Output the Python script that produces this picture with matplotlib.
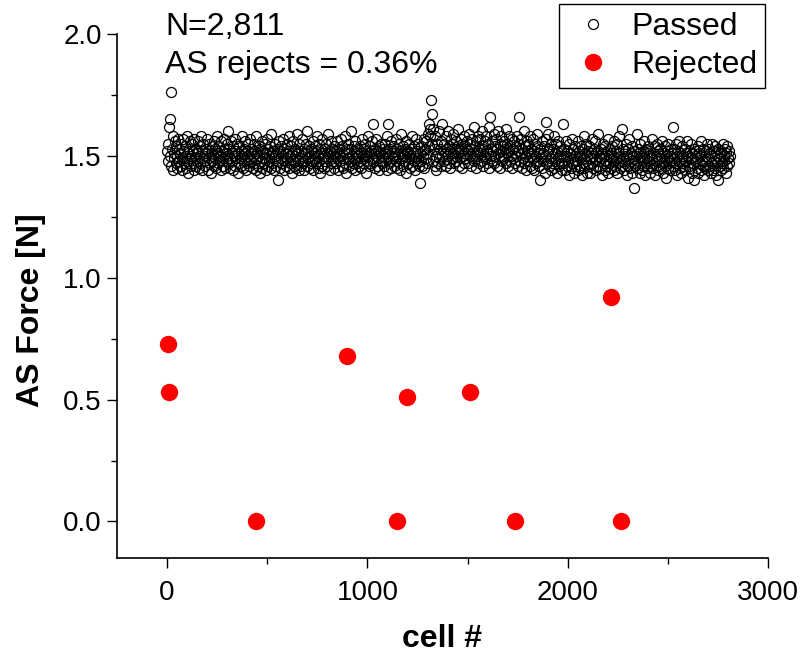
import numpy as np
import matplotlib
matplotlib.use("Agg")
import matplotlib.pyplot as plt
from matplotlib.ticker import MultipleLocator, FormatStrFormatter

# ----------------------------
# Data
# ----------------------------
# passed cells: one value every 3rd cell, 1..2809
passed_step = 3
passed_force = [
    1.52, 1.48, 1.55, 1.62, 1.50, 1.65, 1.46, 1.76, 1.53, 1.58, 1.44, 1.51, 1.49, 1.56, 1.47, 1.54, 1.45, 1.50, 1.57, 1.48,
    1.53, 1.46, 1.51, 1.55, 1.44, 1.49, 1.57, 1.52, 1.47, 1.50, 1.54, 1.45, 1.58, 1.48, 1.51, 1.43, 1.53, 1.49, 1.56, 1.46,
    1.50, 1.55, 1.47, 1.52, 1.44, 1.57, 1.49, 1.53, 1.46, 1.51, 1.48, 1.56, 1.45, 1.50, 1.54, 1.47, 1.58, 1.52, 1.44, 1.49,
    1.55, 1.48, 1.51, 1.46, 1.53, 1.50, 1.57, 1.44, 1.52, 1.49, 1.55, 1.47, 1.43, 1.51, 1.54, 1.48, 1.50, 1.56, 1.46, 1.53,
    1.49, 1.45, 1.52, 1.58, 1.47, 1.51, 1.54, 1.48, 1.50, 1.44, 1.56, 1.52, 1.46, 1.49, 1.53, 1.57, 1.45, 1.51, 1.48, 1.55,
    1.50, 1.60, 1.47, 1.53, 1.49, 1.45, 1.56, 1.51, 1.48, 1.54, 1.44, 1.50, 1.57, 1.46, 1.52, 1.49, 1.55, 1.43, 1.51, 1.47,
    1.54, 1.49, 1.52, 1.46, 1.58, 1.50, 1.45, 1.53, 1.48, 1.51, 1.56, 1.44, 1.50, 1.47, 1.55, 1.52, 1.46, 1.49, 1.57, 1.51,
    1.48, 1.53, 1.45, 1.50, 1.55, 1.47, 1.52, 1.44, 1.58, 1.49, 1.51, 1.46, 1.54, 1.50, 1.43, 1.53, 1.48, 1.56, 1.45, 1.51,
    1.52, 1.47, 1.55, 1.49, 1.44, 1.51, 1.57, 1.46, 1.53, 1.50, 1.48, 1.54, 1.45, 1.59, 1.51, 1.47, 1.52, 1.49, 1.44, 1.55,
    1.50, 1.46, 1.53, 1.48, 1.40, 1.51, 1.56, 1.45, 1.52, 1.49, 1.54, 1.47, 1.50, 1.57, 1.44, 1.53, 1.48, 1.51, 1.46, 1.55,
    1.49, 1.52, 1.45, 1.58, 1.50, 1.47, 1.54, 1.43, 1.51, 1.48, 1.56, 1.46, 1.53, 1.50, 1.45, 1.52, 1.59, 1.48, 1.51, 1.44,
    1.55, 1.49, 1.52, 1.46, 1.50, 1.57, 1.47, 1.53, 1.44, 1.51, 1.48, 1.55, 1.60, 1.46, 1.52, 1.49, 1.54, 1.45, 1.50, 1.47,
    1.53, 1.48, 1.56, 1.44, 1.51, 1.49, 1.54, 1.47, 1.52, 1.58, 1.45, 1.50, 1.48, 1.55, 1.43, 1.51, 1.53, 1.46, 1.57, 1.49,
    1.50, 1.45, 1.53, 1.48, 1.55, 1.51, 1.46, 1.59, 1.49, 1.52, 1.44, 1.50, 1.56, 1.47, 1.53, 1.48, 1.51, 1.45, 1.54, 1.50,
    1.47, 1.52, 1.49, 1.56, 1.44, 1.51, 1.53, 1.48, 1.50, 1.57, 1.46, 1.54, 1.49, 1.45, 1.52, 1.58, 1.47, 1.51, 1.43, 1.53,
    1.49, 1.55, 1.46, 1.51, 1.48, 1.53, 1.60, 1.45, 1.50, 1.47, 1.54, 1.52, 1.44, 1.56, 1.49, 1.51, 1.47, 1.53, 1.50, 1.46,
    1.54, 1.48, 1.51, 1.45, 1.57, 1.50, 1.47, 1.53, 1.49, 1.55, 1.43, 1.52, 1.48, 1.50, 1.58, 1.46, 1.51, 1.54, 1.47, 1.52,
    1.49, 1.56, 1.63, 1.48, 1.51, 1.45, 1.53, 1.50, 1.57, 1.46, 1.52, 1.49, 1.54, 1.44, 1.51, 1.48, 1.55, 1.50, 1.47, 1.53,
    1.51, 1.46, 1.55, 1.49, 1.52, 1.44, 1.58, 1.63, 1.50, 1.47, 1.53, 1.48, 1.56, 1.45, 1.51, 1.54, 1.49, 1.46, 1.52, 1.50,
    1.57, 1.48, 1.53, 1.45, 1.50, 1.55, 1.47, 1.52, 1.44, 1.59, 1.49, 1.51, 1.46, 1.54, 1.50, 1.48, 1.53, 1.43, 1.56, 1.51,
    1.47, 1.52, 1.50, 1.55, 1.45, 1.49, 1.53, 1.58, 1.46, 1.51, 1.48, 1.54, 1.44, 1.50, 1.57, 1.47, 1.52, 1.49, 1.55, 1.46,
    1.39, 1.51, 1.48, 1.54, 1.46, 1.52, 1.50, 1.57, 1.45, 1.53, 1.49, 1.56, 1.47, 1.51, 1.59, 1.54, 1.63, 1.58, 1.61, 1.73,
    1.67, 1.55, 1.61, 1.48, 1.53, 1.46, 1.58, 1.50, 1.44, 1.55, 1.51, 1.47, 1.60, 1.49, 1.53, 1.46, 1.56, 1.63, 1.50, 1.52,
    1.48, 1.55, 1.51, 1.58, 1.46, 1.53, 1.50, 1.60, 1.47, 1.54, 1.52, 1.45, 1.57, 1.49, 1.55, 1.51, 1.59, 1.47, 1.53, 1.50,
    1.56, 1.48, 1.54, 1.51, 1.61, 1.46, 1.53, 1.49, 1.57, 1.52, 1.45, 1.55, 1.50, 1.58, 1.47, 1.54, 1.51, 1.49, 1.56, 1.53,
    1.47, 1.52, 1.59, 1.50, 1.55, 1.46, 1.53, 1.57, 1.49, 1.51, 1.62, 1.48, 1.54, 1.45, 1.56, 1.52, 1.50, 1.58, 1.47, 1.53,
    1.51, 1.57, 1.48, 1.54, 1.60, 1.46, 1.53, 1.50, 1.56, 1.49, 1.52, 1.58, 1.47, 1.55, 1.51, 1.45, 1.62, 1.66, 1.53, 1.50,
    1.48, 1.56, 1.52, 1.59, 1.47, 1.54, 1.50, 1.57, 1.46, 1.53, 1.51, 1.60, 1.49, 1.55, 1.45, 1.52, 1.58, 1.48, 1.54, 1.50,
    1.56, 1.49, 1.53, 1.47, 1.61, 1.51, 1.55, 1.46, 1.52, 1.58, 1.48, 1.54, 1.50, 1.57, 1.45, 1.53, 1.49, 1.56, 1.51, 1.47,
    1.54, 1.50, 1.58, 1.46, 1.52, 1.66, 1.55, 1.48, 1.51, 1.57, 1.45, 1.53, 1.49, 1.60, 1.47, 1.54, 1.50, 1.44, 1.56, 1.52,
    1.48, 1.55, 1.51, 1.46, 1.58, 1.50, 1.53, 1.45, 1.57, 1.49, 1.52, 1.44, 1.55, 1.50, 1.47, 1.54, 1.59, 1.48, 1.51, 1.46,
    1.40, 1.53, 1.49, 1.56, 1.45, 1.51, 1.48, 1.54, 1.43, 1.50, 1.57, 1.64, 1.47, 1.52, 1.59, 1.46, 1.53, 1.49, 1.44, 1.55,
    1.50, 1.47, 1.53, 1.58, 1.45, 1.51, 1.48, 1.55, 1.43, 1.52, 1.49, 1.56, 1.46, 1.50, 1.54, 1.47, 1.52, 1.44, 1.63, 1.50,
    1.47, 1.53, 1.44, 1.50, 1.56, 1.46, 1.52, 1.48, 1.42, 1.55, 1.49, 1.51, 1.45, 1.57, 1.47, 1.53, 1.43, 1.50, 1.48, 1.54,
    1.46, 1.51, 1.48, 1.56, 1.44, 1.52, 1.49, 1.45, 1.54, 1.50, 1.42, 1.53, 1.47, 1.58, 1.45, 1.51, 1.48, 1.55, 1.43, 1.50,
    1.52, 1.46, 1.54, 1.49, 1.43, 1.51, 1.57, 1.47, 1.50, 1.45, 1.53, 1.48, 1.56, 1.44, 1.51, 1.46, 1.52, 1.59, 1.48, 1.50,
    1.45, 1.53, 1.49, 1.51, 1.42, 1.55, 1.47, 1.50, 1.44, 1.54, 1.48, 1.52, 1.46, 1.57, 1.43, 1.50, 1.53, 1.47, 1.51, 1.45,
    1.54, 1.48, 1.50, 1.44, 1.56, 1.46, 1.52, 1.49, 1.43, 1.55, 1.47, 1.51, 1.58, 1.45, 1.50, 1.48, 1.61, 1.46, 1.53, 1.49,
    1.44, 1.52, 1.47, 1.55, 1.50, 1.42, 1.53, 1.46, 1.49, 1.57, 1.45, 1.51, 1.48, 1.54, 1.43, 1.50, 1.47, 1.37, 1.52, 1.46,
    1.50, 1.59, 1.45, 1.53, 1.48, 1.51, 1.43, 1.55, 1.47, 1.50, 1.44, 1.52, 1.46, 1.56, 1.49, 1.42, 1.53, 1.47, 1.51, 1.45,
    1.54, 1.48, 1.50, 1.43, 1.52, 1.46, 1.57, 1.49, 1.45, 1.51, 1.47, 1.54, 1.42, 1.50, 1.48, 1.55, 1.44, 1.52, 1.46, 1.49,
    1.53, 1.45, 1.50, 1.47, 1.56, 1.43, 1.51, 1.48, 1.54, 1.46, 1.41, 1.52, 1.49, 1.45, 1.55, 1.47, 1.50, 1.44, 1.53, 1.48,
    1.51, 1.62, 1.46, 1.53, 1.49, 1.44, 1.55, 1.47, 1.50, 1.42, 1.52, 1.48, 1.56, 1.45, 1.51, 1.43, 1.49, 1.54, 1.46, 1.50,
    1.47, 1.53, 1.44, 1.51, 1.48, 1.56, 1.41, 1.50, 1.46, 1.52, 1.45, 1.49, 1.55, 1.43, 1.51, 1.47, 1.53, 1.40, 1.50, 1.48,
    1.52, 1.45, 1.49, 1.54, 1.43, 1.51, 1.47, 1.50, 1.44, 1.56, 1.48, 1.46, 1.53, 1.42, 1.50, 1.45, 1.52, 1.48, 1.55, 1.44,
    1.49, 1.53, 1.46, 1.51, 1.43, 1.50, 1.55, 1.47, 1.44, 1.52, 1.48, 1.45, 1.54, 1.42, 1.50, 1.47, 1.53, 1.40, 1.49, 1.46,
    1.51, 1.44, 1.52, 1.47, 1.55, 1.45, 1.50, 1.48, 1.53, 1.43, 1.51, 1.46, 1.54, 1.49, 1.52, 1.47, 1.50,
]
passed_cell = 1 + passed_step * np.arange(len(passed_force))

rejected_cell = [5, 12, 445, 900, 1150, 1200, 1510, 1735, 2215, 2265]
rejected_force = [0.73, 0.53, 0.0, 0.68, 0.0, 0.51, 0.53, 0.0, 0.92, 0.0]

n_cells = "2,811"
reject_pct = "0.36%"

# ----------------------------
# Plot
# ----------------------------
plt.rcParams["font.family"] = ["Liberation Sans", "DejaVu Sans"]

W, H = 803, 658
fig = plt.figure(figsize=(W / 100, H / 100), dpi=100)
ax = fig.add_axes([117 / W, 1 - 558 / H, (768 - 117) / W, (558 - 34) / H])

ax.plot(passed_cell, passed_force, "o", ls="none", ms=7.2, mfc="none",
        mec="black", mew=0.9, label="Passed")
ax.plot(rejected_cell, rejected_force, "o", ls="none", ms=12.5, mfc="#ff0000",
        mec="#ff0000", mew=0, label="Rejected")

ax.set_xlim(-250, 3000)
ax.set_ylim(-0.15, 2.0)

for s in ["top", "right"]:
    ax.spines[s].set_visible(False)
for s in ["left", "bottom"]:
    ax.spines[s].set_linewidth(1.2)

ax.xaxis.set_major_locator(MultipleLocator(1000))
ax.xaxis.set_minor_locator(MultipleLocator(500))
ax.yaxis.set_major_locator(MultipleLocator(0.5))
ax.yaxis.set_minor_locator(MultipleLocator(0.25))
ax.yaxis.set_major_formatter(FormatStrFormatter("%.1f"))
ax.tick_params(which="major", direction="out", length=7.5, width=1, labelsize=20)
ax.tick_params(which="minor", direction="out", length=4, width=1)
ax.tick_params(axis="y", pad=3.5)
ax.tick_params(axis="x", pad=8)

ax.set_xlabel("cell #", fontsize=23, fontweight="bold", labelpad=13)
ax.set_ylabel("AS Force [N]", fontsize=23, fontweight="bold")
ax.yaxis.set_label_coords((46 - 117) / (768 - 117), (558 - 310) / (558 - 34))

fig.text(165 / W, 1 - 35 / H, f"N={n_cells}", fontsize=23, va="baseline")
fig.text(165 / W, 1 - 73 / H, f"AS rejects = {reject_pct}", fontsize=23, va="baseline")

leg = ax.legend(loc="upper right", bbox_to_anchor=(765 / W, 1 - 4 / H),
                bbox_transform=fig.transFigure, fontsize=23, frameon=True,
                fancybox=False, edgecolor="black", framealpha=1,
                borderpad=0.25, labelspacing=0.25, handlelength=1.6,
                handletextpad=0.4, borderaxespad=0, numpoints=1)
leg.get_frame().set_linewidth(1.0)

fig.savefig("out.png", dpi=100)
